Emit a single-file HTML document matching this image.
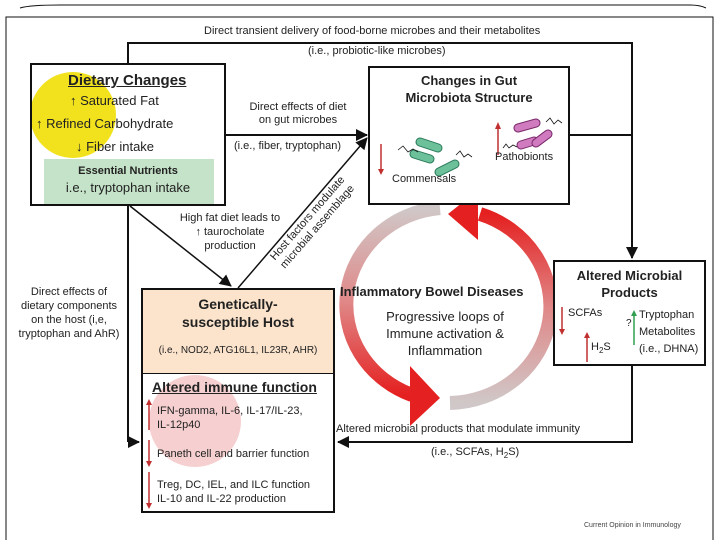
<!DOCTYPE html>
<html><head><meta charset="utf-8"><style>
body{margin:0;background:#fff;}
#c{position:relative;width:720px;height:540px;overflow:hidden;font-family:"Liberation Sans",sans-serif;color:#222;}
.t{position:absolute;white-space:nowrap;}
.box{position:absolute;border:2px solid #111;background:#fff;box-sizing:border-box;}
</style></head><body><div id="c">
<svg width="720" height="540" style="position:absolute;left:0;top:0">
<defs>
<marker id="a2" markerWidth="12" markerHeight="12" refX="11" refY="6" orient="auto" markerUnits="userSpaceOnUse"><path d="M0,0 L12,6 L0,12z" fill="#111"/></marker>
<linearGradient id="g1" x1="0" y1="0" x2="0" y2="1"><stop offset="0" stop-color="#d0c8c8"/><stop offset="0.5" stop-color="#e08888"/><stop offset="1" stop-color="#e52020"/></linearGradient>
<linearGradient id="g2" x1="0" y1="0" x2="0" y2="1"><stop offset="0" stop-color="#e52020"/><stop offset="0.5" stop-color="#e08888"/><stop offset="1" stop-color="#d0c8c8"/></linearGradient>
</defs>
<path d="M20,8 Q30,5 60,5 L690,5 Q700,5 706,8" fill="none" stroke="#111" stroke-width="1"/>
<path d="M6,540 L6,17 L713,17 L713,540" fill="none" stroke="#111" stroke-width="1"/>
<!-- circle -->
<path d="M440,208 A103,97 0 0 0 412,395" fill="none" stroke="url(#g1)" stroke-width="14"/>
<path d="M440,398 L410,366 L410,426 Z" fill="#e52020"/>
<path d="M450,403 A103,97 0 0 0 480,214" fill="none" stroke="url(#g2)" stroke-width="14"/>
<path d="M448,214 L478,190 L478,240 Z" fill="#e52020"/>
<!-- connectors -->
<polyline points="128,442 128,43 632,43 632,258" fill="none" stroke="#111" stroke-width="2" marker-end="url(#a2)"/>
<line x1="128" y1="442" x2="139" y2="442" stroke="#111" stroke-width="2" marker-end="url(#a2)"/>
<line x1="226" y1="135" x2="367" y2="135" stroke="#111" stroke-width="2" marker-end="url(#a2)"/>
<line x1="570" y1="135" x2="632" y2="135" stroke="#111" stroke-width="2"/>
<polyline points="632,365 632,442 338,442" fill="none" stroke="#111" stroke-width="2" marker-end="url(#a2)"/>
<line x1="130" y1="206" x2="231" y2="286" stroke="#111" stroke-width="1.5" marker-end="url(#a2)"/>
<line x1="238" y1="288" x2="367" y2="138" stroke="#111" stroke-width="1.5" marker-end="url(#a2)"/>
</svg>

<div class="box" style="left:30px;top:63px;width:196px;height:143px;overflow:hidden">
<div style="position:absolute;left:-2px;top:7px;width:86px;height:86px;border-radius:50%;background:#f2e21e"></div>
<div style="position:absolute;left:12px;top:94px;width:170px;height:47px;background:#c5e3c8"></div>
</div>
<div class="t" style="left:68px;top:72px;font-size:15px;font-weight:bold;text-decoration:underline">Dietary Changes</div>
<div class="t" style="left:70px;top:93px;font-size:13px">↑ Saturated Fat</div>
<div class="t" style="left:36px;top:116px;font-size:13px">↑ Refined Carbohydrate</div>
<div class="t" style="left:76px;top:139px;font-size:13px">↓ Fiber intake</div>
<div class="t" style="left:43px;top:165px;width:170px;text-align:center;font-size:11px;font-weight:bold">Essential Nutrients</div>
<div class="t" style="left:43px;top:180px;width:170px;text-align:center;font-size:13px">i.e., tryptophan intake</div>

<div class="t" style="left:204px;top:25px;font-size:11px">Direct transient delivery of food-borne microbes and their metabolites</div>
<div class="t" style="left:308px;top:45px;font-size:11px">(i.e., probiotic-like microbes)</div>
<div class="t" style="left:234px;top:101px;width:128px;text-align:center;font-size:11px;line-height:13px">Direct effects of diet<br>on gut microbes</div>
<div class="t" style="left:234px;top:140px;font-size:11px">(i.e., fiber, tryptophan)</div>
<div class="t" style="left:170px;top:211px;width:120px;text-align:center;font-size:11px;line-height:14px">High fat diet leads to<br>↑ taurocholate<br>production</div>
<div class="t" style="left:248px;top:210px;width:130px;text-align:center;font-size:11px;line-height:13px;transform:rotate(-49deg)">Host factors modulate<br>microbial assemblage</div>
<div class="t" style="left:10px;top:285px;width:118px;text-align:center;font-size:11px;line-height:14px">Direct effects of<br>dietary components<br>on the host (i,e,<br>tryptophan and AhR)</div>

<div class="box" style="left:368px;top:66px;width:202px;height:139px"></div>
<div class="t" style="left:368px;top:72px;width:202px;text-align:center;font-size:13px;font-weight:bold;line-height:17px">Changes in Gut<br>Microbiota Structure</div>
<svg width="202" height="80" style="position:absolute;left:368px;top:110px">
<g stroke-linecap="round">
<line x1="52" y1="32" x2="70" y2="38" stroke="#2a7a5a" stroke-width="9"/><line x1="52" y1="32" x2="70" y2="38" stroke="#6cc09a" stroke-width="7"/>
<line x1="46" y1="44" x2="62" y2="49" stroke="#2a7a5a" stroke-width="9"/><line x1="46" y1="44" x2="62" y2="49" stroke="#6cc09a" stroke-width="7"/>
<line x1="71" y1="62" x2="87" y2="54" stroke="#2a7a5a" stroke-width="9"/><line x1="71" y1="62" x2="87" y2="54" stroke="#6cc09a" stroke-width="7"/>
<line x1="150" y1="18" x2="168" y2="13" stroke="#7a2a6a" stroke-width="9"/><line x1="150" y1="18" x2="168" y2="13" stroke="#d07ac0" stroke-width="7"/>
<line x1="153" y1="35" x2="166" y2="31" stroke="#7a2a6a" stroke-width="9"/><line x1="153" y1="35" x2="166" y2="31" stroke="#d07ac0" stroke-width="7"/>
<line x1="168" y1="33" x2="180" y2="24" stroke="#7a2a6a" stroke-width="9"/><line x1="168" y1="33" x2="180" y2="24" stroke="#d07ac0" stroke-width="7"/>
</g>
<path d="M30,40 l5,-4 5,6 5,-3 5,3" fill="none" stroke="#111" stroke-width="0.8"/>
<path d="M88,45 l4,-4 4,6 4,-3 4,3" fill="none" stroke="#111" stroke-width="0.8"/>
<path d="M178,12 l4,-4 4,6 4,-4 4,3" fill="none" stroke="#111" stroke-width="0.8"/>
<path d="M135,38 l3,-4 3,4 4,-3 4,2" fill="none" stroke="#111" stroke-width="0.8"/>
<line x1="13" y1="34" x2="13" y2="60" stroke="#c03030" stroke-width="1.5"/><path d="M10,59 L13,65 L16,59z" fill="#c03030"/>
<line x1="130" y1="45" x2="130" y2="18" stroke="#c03030" stroke-width="1.5"/><path d="M127,19 L130,12 L133,19z" fill="#c03030"/>
</svg>
<div class="t" style="left:392px;top:173px;font-size:11px">Commensals</div>
<div class="t" style="left:495px;top:151px;font-size:11px">Pathobionts</div>

<div class="box" style="left:553px;top:260px;width:153px;height:106px"></div>
<div class="t" style="left:553px;top:267px;width:153px;text-align:center;font-size:13px;font-weight:bold;line-height:17px">Altered Microbial<br>Products</div>
<svg width="153" height="60" style="position:absolute;left:553px;top:305px">
<line x1="9" y1="2" x2="9" y2="25" stroke="#c03030" stroke-width="1.5"/><path d="M6,24 L9,30 L12,24z" fill="#c03030"/>
<line x1="34" y1="57" x2="34" y2="32" stroke="#c03030" stroke-width="1.5"/><path d="M31,33 L34,27 L37,33z" fill="#c03030"/>
<line x1="81" y1="40" x2="81" y2="10" stroke="#30a050" stroke-width="1.5"/><path d="M78,11 L81,5 L84,11z" fill="#30a050"/>
</svg>
<div class="t" style="left:568px;top:307px;font-size:11px">SCFAs</div>
<div class="t" style="left:591px;top:341px;font-size:11px">H<sub style="font-size:8px">2</sub>S</div>
<div class="t" style="left:626px;top:318px;font-size:10px">?</div>
<div class="t" style="left:639px;top:307px;font-size:11px;line-height:17px">Tryptophan<br>Metabolites<br>(i.e., DHNA)</div>

<div class="box" style="left:141px;top:288px;width:194px;height:225px;overflow:hidden">
<div style="position:absolute;left:0;top:0;width:100%;height:83px;background:#fbe3cc;border-bottom:1.5px solid #111"></div>
<div style="position:absolute;left:6px;top:85px;width:92px;height:92px;border-radius:50%;background:#f6d0d0"></div>
</div>
<div class="t" style="left:141px;top:295px;width:194px;text-align:center;font-size:14px;font-weight:bold;line-height:18px">Genetically-<br>susceptible Host</div>
<div class="t" style="left:141px;top:345px;width:194px;text-align:center;font-size:10px">(i.e., NOD2, ATG16L1, IL23R, AHR)</div>
<div class="t" style="left:152px;top:379px;font-size:14px;font-weight:bold;text-decoration:underline">Altered immune function</div>
<svg width="10" height="140" style="position:absolute;left:144px;top:398px">
<line x1="5" y1="6" x2="5" y2="32" stroke="#c03030" stroke-width="1.5"/><path d="M2,7 L5,1 L8,7z" fill="#c03030"/>
<line x1="5" y1="42" x2="5" y2="64" stroke="#c03030" stroke-width="1.5"/><path d="M2,63 L5,69 L8,63z" fill="#c03030"/>
<line x1="5" y1="74" x2="5" y2="106" stroke="#c03030" stroke-width="1.5"/><path d="M2,105 L5,111 L8,105z" fill="#c03030"/>
</svg>
<div class="t" style="left:157px;top:404px;font-size:11px;line-height:14px">IFN-gamma, IL-6, IL-17/IL-23,<br>IL-12p40</div>
<div class="t" style="left:157px;top:448px;font-size:11px">Paneth cell and barrier function</div>
<div class="t" style="left:157px;top:478px;font-size:11px;line-height:14px">Treg, DC, IEL, and ILC function<br>IL-10 and IL-22 production</div>

<div class="t" style="left:340px;top:284px;font-size:13px;font-weight:bold">Inflammatory Bowel Diseases</div>
<div class="t" style="left:360px;top:308px;width:170px;text-align:center;font-size:13px;line-height:17px">Progressive loops of<br>Immune activation &amp;<br>Inflammation</div>
<div class="t" style="left:336px;top:423px;font-size:11px">Altered microbial products that modulate immunity</div>
<div class="t" style="left:431px;top:446px;font-size:11px">(i.e., SCFAs, H<sub style="font-size:8px">2</sub>S)</div>
<div class="t" style="left:584px;top:522px;font-size:7px;color:#444">Current Opinion in Immunology</div>
</div></body></html>
